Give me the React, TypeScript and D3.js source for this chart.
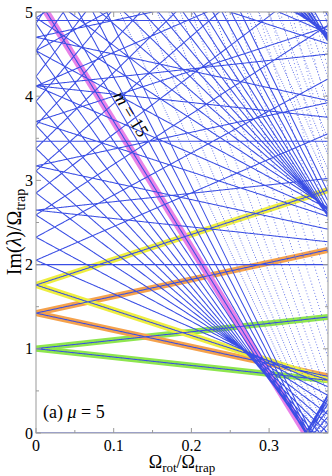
import React from 'react';
import * as d3 from 'd3';

// Mode frequencies at Ω_rot = 0, indexed by |m| (radial families n = 0..3)
const omegaN0 = [0, 1.002, 1.424, 1.758, 2.052, 2.326, 2.59, 2.851, 3.113, 3.38, 3.654, 3.938, 4.234, 4.541, 4.864, 5.201, 5.555, 5.927, 6.318, 6.729, 7.159, 7.612, 8.086, 8.583, 9.101, 9.643, 10.21, 10.801, 11.419, 12.063, 12.734, 13.431, 14.157, 14.91, 15.692, 16.499, 17.346, 18.22, 19.117];
const omegaN1 = [2.0, 2.647, 3.172, 3.7, 4.12, 4.54, 4.93, 5.3, 5.66, 6.02, 6.37, 6.73, 7.09, 7.46, 7.84, 8.23, 8.64, 9.07, 9.52, 10.0, 10.5, 11.02, 11.57, 12.14, 12.73, 13.35, 13.99, 14.66, 15.35];
const omegaN2 = [3.464, 4.125, 4.7, 5.75, 6.25, 6.66, 7.0, 7.35, 7.71, 8.07, 8.44, 8.8, 9.18, 9.55, 9.91, 10.3, 10.67, 11.1, 11.71];
const omegaN3 = [4.899];
const families = [omegaN0, omegaN1, omegaN2, omegaN3];

// highlighted n = 0 modes
const highlightM = [1, -1, 2, -2, 3, -3];
const highlightColors = ['#8ee64e', '#8ee64e', '#f5a24c', '#f5a24c', '#eeee40', '#eeee40'];
const criticalM = 15;

const xTicks = [0, 0.1, 0.2, 0.3];
const xMinor = [0.05, 0.15, 0.25, 0.35];
const yTicks = [0, 1, 2, 3, 4, 5];
const yMinor = [0.5, 1.5, 2.5, 3.5, 4.5];

const X_MAX = 0.3758;
const Y_MAX = 5;

export default function App() {
  const W = 332, H = 476;
  const L = 36, R = 328, T = 12, B = 433;
  const x = d3.scaleLinear().domain([0, X_MAX]).range([L, R]);
  const y = d3.scaleLinear().domain([0, Y_MAX]).range([B, T]);
  const step = 0.00125;
  const samples = d3.range(0, X_MAX + 1e-9, step);

  let solid = '';
  let dots = '';
  families.forEach((fam) => {
    fam.forEach((w, am) => {
      const ms = am === 0 ? [0] : [am, -am];
      ms.forEach((m) => {
        let prev: [number, number] | null = null;
        for (const o of samples) {
          const v = Math.abs(w - m * o);
          if (v > Y_MAX + 0.02) { prev = null; continue; }
          const px = x(o), py = y(v);
          if (prev && Math.abs(py - prev[1]) <= 2.0) {
            solid += `M${prev[0].toFixed(2)},${prev[1].toFixed(2)}L${px.toFixed(2)},${py.toFixed(2)}`;
          } else {
            dots += `M${px.toFixed(2)},${py.toFixed(2)}h0.01`;
          }
          prev = [px, py];
        }
      });
    });
  });

  const line = d3.line<[number, number]>().x((d) => x(d[0])).y((d) => y(d[1]));
  const hl = highlightM.map((m, i) => {
    const w = omegaN0[Math.abs(m)];
    const pts: [number, number][] = [[0, w], [X_MAX, w - m * X_MAX]];
    return <path key={i} d={line(pts) || ''} stroke={highlightColors[i]} strokeWidth={6} fill="none" />;
  });
  const wc = omegaN0[criticalM];
  const magenta = line([[0, wc], [wc / criticalM, 0]]) || '';
  const angle = (Math.atan2(y(0) - y(wc), x(wc / criticalM) - x(0)) * 180) / Math.PI;

  const font = '"Liberation Serif", "DejaVu Serif", serif';
  const frame = '#9a9a9a';

  return (
    <svg width={W} height={H} style={{ position: 'absolute', left: 0, top: 0, background: '#fff' }} fontFamily={font}>
      <defs>
        <clipPath id="plot">
          <rect x={L} y={T} width={R - L} height={B - T} />
        </clipPath>
      </defs>
      <g clipPath="url(#plot)">
        {hl}
        <path d={magenta} stroke="#e882e8" strokeWidth={7} fill="none" />
        <path d={dots} stroke="#4d60e6" strokeOpacity={0.85} strokeWidth={1.1} strokeLinecap="round" fill="none" />
        <path d={solid} stroke="#3a4ee4" strokeWidth={1.05} strokeLinecap="round" fill="none" />
      </g>
      <rect x={L} y={T} width={R - L} height={B - T} fill="none" stroke={frame} strokeWidth={1} />
      {xTicks.map((t) => (
        <g key={'xt' + t}>
          <line x1={x(t)} x2={x(t)} y1={B} y2={B - 5} stroke={frame} />
          <line x1={x(t)} x2={x(t)} y1={T} y2={T + 5} stroke={frame} />
          <text x={x(t)} y={451} fontSize={16} textAnchor="middle">{t === 0 ? '0' : t.toFixed(1)}</text>
        </g>
      ))}
      {xMinor.map((t) => (
        <g key={'xm' + t}>
          <line x1={x(t)} x2={x(t)} y1={B} y2={B - 3} stroke={frame} />
          <line x1={x(t)} x2={x(t)} y1={T} y2={T + 3} stroke={frame} />
        </g>
      ))}
      {yTicks.map((t) => (
        <g key={'yt' + t}>
          <line x1={L} x2={L + 5} y1={y(t)} y2={y(t)} stroke={frame} />
          <line x1={R} x2={R - 5} y1={y(t)} y2={y(t)} stroke={frame} />
          <text x={33} y={y(t) + 5.5} fontSize={16} textAnchor="end">{t}</text>
        </g>
      ))}
      {yMinor.map((t) => (
        <g key={'ym' + t}>
          <line x1={L} x2={L + 3} y1={y(t)} y2={y(t)} stroke={frame} />
          <line x1={R} x2={R - 3} y1={y(t)} y2={y(t)} stroke={frame} />
        </g>
      ))}
      <text transform="translate(21,232) rotate(-90)" fontSize={20} textAnchor="middle">
        Im(<tspan fontStyle="italic">λ</tspan>)/Ω<tspan dy={4} fontSize={14}>trap</tspan>
      </text>
      <text x={182} y={468} fontSize={18} textAnchor="middle">
        Ω<tspan dy={4} fontSize={13}>rot</tspan><tspan dy={-4}>/Ω</tspan><tspan dy={4} fontSize={13}>trap</tspan>
      </text>
      <text x={43} y={418} fontSize={18}>
        (a) <tspan fontStyle="italic">μ</tspan> = 5
      </text>
      <text transform={`translate(126,117) rotate(${angle})`} fontSize={18} textAnchor="middle">
        <tspan fontStyle="italic">m</tspan> = 15
      </text>
    </svg>
  );
}
